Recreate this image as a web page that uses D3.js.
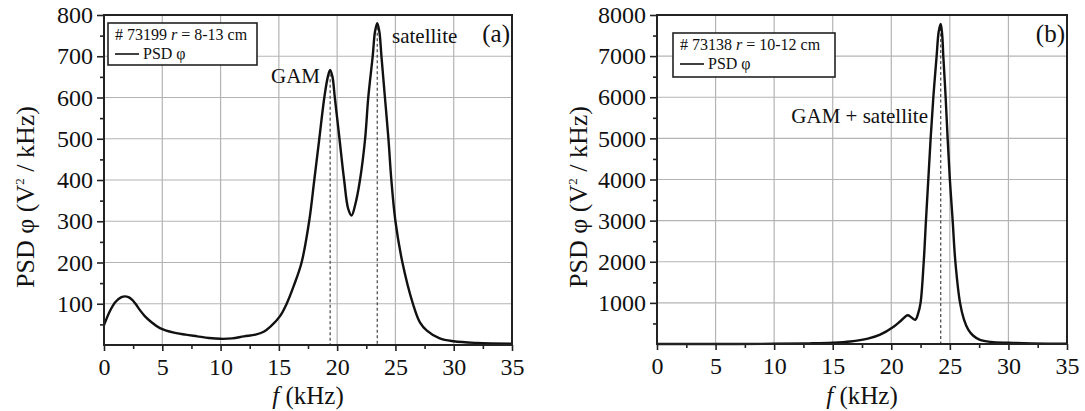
<!DOCTYPE html>
<html>
<head>
<meta charset="utf-8">
<script src="https://cdn.jsdelivr.net/npm/d3@7"></script>
<style>
  body { margin: 0; background: #fff; }
  svg { display: block; }
  svg text { font-family: "Liberation Serif", "DejaVu Serif", serif; }
</style>
</head>
<body>
<svg id="chart" width="1085" height="411"></svg>
<script>
// panel (a): # 73199, r = 8-13 cm
const freqA = [0, 0.5, 1, 1.5, 1.8, 2.1, 2.4, 2.7, 3.1, 3.5, 4, 4.8, 6, 7, 8, 9, 10, 11, 12, 13, 13.7, 14.3, 15.1, 15.67, 16.3, 16.95, 17.6, 18.04, 18.47, 18.9, 19.2, 19.4, 19.6, 19.8, 20.2, 20.6, 20.95, 21.24, 21.55, 21.96, 22.4, 22.67, 23.05, 23.25, 23.44, 23.62, 23.8, 24.1, 24.4, 24.65, 25, 25.6, 26.5, 27.1, 27.7, 28.8, 30, 32, 35];
const psdA = [48, 82, 105, 116, 118, 116, 110, 100, 84, 70, 57, 41, 30, 25, 21, 17, 15, 16, 21, 25, 32, 45, 70, 100, 145, 200, 300, 400, 500, 600, 650, 667, 650, 600, 500, 400, 330, 314, 340, 400, 500, 600, 700, 760, 780, 760, 700, 600, 500, 400, 300, 200, 100, 55, 35, 16, 9, 5, 3];

// panel (b): # 73138, r = 10-12 cm
const freqB = [0, 5, 10, 13, 15, 16.5, 18, 19, 20.2, 20.8, 21.4, 21.7, 22.05, 22.3, 22.5, 22.77, 22.96, 23.16, 23.36, 23.59, 23.87, 24.05, 24.22, 24.35, 24.44, 24.64, 24.81, 25, 25.24, 25.47, 25.87, 26.2, 26.57, 27, 27.57, 28.5, 30, 32, 35];
const psdB = [0, 0, 5, 15, 30, 60, 130, 220, 420, 560, 700, 650, 590, 750, 1000, 2000, 3000, 4000, 5000, 6000, 7000, 7600, 7780, 7500, 7000, 6000, 5000, 4000, 3000, 2000, 1000, 600, 350, 200, 100, 50, 30, 15, 5];

const xTicks = [0, 5, 10, 15, 20, 25, 30, 35];
const yTicksA = [100, 200, 300, 400, 500, 600, 700, 800];
const yTicksB = [1000, 2000, 3000, 4000, 5000, 6000, 7000, 8000];

const peaksA = [19.4, 23.44];
const peaksB = [24.22];

const serif = '"Liberation Serif", "DejaVu Serif", serif';
const svg = d3.select('#chart');

function drawPanel(cfg) {
  const { left, right, top, bottom, freq, psd, yMax, yTicks, peaks, legendText, legendBox, tag, yLabelX } = cfg;

  const x = d3.scaleLinear().domain([0, 35]).range([left, right]);
  const y = d3.scaleLinear().domain([0, yMax]).range([bottom, top]);
  const g = svg.append('g');

  // grid
  g.append('g').selectAll('line').data(xTicks.slice(1, -1)).enter()
    .append('line')
    .attr('x1', d => x(d)).attr('x2', d => x(d))
    .attr('y1', top).attr('y2', bottom)
    .attr('stroke', '#b4b4b4').attr('stroke-width', 1.2);
  g.append('g').selectAll('line').data(yTicks.slice(0, -1)).enter()
    .append('line')
    .attr('x1', left).attr('x2', right)
    .attr('y1', d => y(d)).attr('y2', d => y(d))
    .attr('stroke', '#b4b4b4').attr('stroke-width', 1.2);

  const line = d3.line().x(d => x(d[0])).y(d => y(d[1])).curve(d3.curveCatmullRom.alpha(0.5));
  const pts = d3.zip(freq, psd);
  const interp = f => {
    const i = d3.bisectLeft(freq, f);
    if (freq[i] === f) return psd[i];
    const t = (f - freq[i - 1]) / (freq[i] - freq[i - 1]);
    return psd[i - 1] + t * (psd[i] - psd[i - 1]);
  };

  // dashed peak markers
  g.selectAll('line.peak').data(peaks).enter()
    .append('line')
    .attr('x1', d => x(d)).attr('x2', d => x(d))
    .attr('y1', d => y(interp(d)) + 4).attr('y2', bottom)
    .attr('stroke', '#444').attr('stroke-width', 1.2)
    .attr('stroke-dasharray', '3,2.5');

  // curve
  g.append('path')
    .datum(pts)
    .attr('d', line)
    .attr('fill', 'none')
    .attr('stroke', '#111')
    .attr('stroke-width', 2.4)
    .attr('stroke-linejoin', 'round');

  // axes
  const xAxis = d3.axisBottom(x).tickValues(xTicks).tickSize(6).tickPadding(7).tickFormat(d3.format('d'));
  const xMinor = d3.axisBottom(x).tickValues(d3.range(2.5, 35, 5)).tickSize(4).tickFormat('');
  const yAxis = d3.axisLeft(y).tickValues(yTicks).tickSize(7).tickPadding(4).tickFormat(d3.format('d'));
  const yMinor = d3.axisLeft(y).tickValues(yTicks.map(v => v - yTicks[0] / 2)).tickSize(4).tickFormat('');

  [xAxis, xMinor].forEach(a => {
    g.append('g').attr('transform', `translate(0,${bottom})`).call(a)
      .call(s => s.select('.domain').remove());
  });
  [yAxis, yMinor].forEach(a => {
    g.append('g').attr('transform', `translate(${left},0)`).call(a)
      .call(s => s.select('.domain').remove());
  });
  g.selectAll('.tick line').attr('stroke', '#222').attr('stroke-width', 1.6);
  g.selectAll('.tick text')
    .attr('fill', '#111')
    .attr('font-family', serif)
    .attr('font-size', 24);

  // frame
  g.append('rect')
    .attr('x', left).attr('y', top)
    .attr('width', right - left).attr('height', bottom - top)
    .attr('fill', 'none').attr('stroke', '#222').attr('stroke-width', 2);

  // y label
  const yl = g.append('text')
    .attr('transform', `translate(${yLabelX},197) rotate(-90)`)
    .attr('text-anchor', 'middle')
    .attr('font-size', 26)
    .attr('fill', '#111');
  yl.append('tspan').text('PSD φ (V');
  yl.append('tspan').attr('dy', -10).attr('font-size', 13).text('2');
  yl.append('tspan').attr('dy', 10).text(' / kHz)');

  // x label
  const xl = g.append('text')
    .attr('x', (left + right) / 2).attr('y', 404)
    .attr('text-anchor', 'middle')
    .attr('font-size', 25)
    .attr('fill', '#111');
  xl.append('tspan').attr('font-style', 'italic').text('f');
  xl.append('tspan').text(' (kHz)');

  // legend
  const lg = g.append('g');
  lg.append('rect')
    .attr('x', legendBox[0]).attr('y', legendBox[1])
    .attr('width', legendBox[2]).attr('height', legendBox[3])
    .attr('fill', '#fff').attr('stroke', '#222').attr('stroke-width', 1.6);
  const t1 = lg.append('text')
    .attr('x', legendBox[0] + 7).attr('y', legendBox[1] + 17)
    .attr('font-size', 16).attr('fill', '#111');
  t1.append('tspan').text(`# ${legendText[0]} `);
  t1.append('tspan').attr('font-style', 'italic').text('r');
  t1.append('tspan').text(` = ${legendText[1]} cm`);
  lg.append('line')
    .attr('x1', legendBox[0] + 7).attr('x2', legendBox[0] + 31)
    .attr('y1', legendBox[1] + 31).attr('y2', legendBox[1] + 31)
    .attr('stroke', '#111').attr('stroke-width', 1.6);
  lg.append('text')
    .attr('x', legendBox[0] + 35).attr('y', legendBox[1] + 36)
    .attr('font-size', 16).attr('fill', '#111')
    .text('PSD φ');

  // panel tag
  g.append('text')
    .attr('x', right - 2).attr('y', top + 27)
    .attr('text-anchor', 'end')
    .attr('font-size', 25).attr('fill', '#111')
    .text(tag);

  return { x, y, g };
}

const pa = drawPanel({
  left: 104, right: 512, top: 15, bottom: 345,
  freq: freqA, psd: psdA, yMax: 800, yTicks: yTicksA, peaks: peaksA,
  legendText: ['73199', '8-13'], legendBox: [108, 23, 149, 42],
  tag: '(a)', yLabelX: 34
});
pa.g.append('text').attr('x', 320).attr('y', 83).attr('text-anchor', 'end')
  .attr('font-size', 21).attr('fill', '#111').text('GAM');
pa.g.append('text').attr('x', 392).attr('y', 43)
  .attr('font-size', 21).attr('fill', '#111').text('satellite');

const pb = drawPanel({
  left: 657, right: 1067, top: 15, bottom: 344,
  freq: freqB, psd: psdB, yMax: 8000, yTicks: yTicksB, peaks: peaksB,
  legendText: ['73138', '10-12'], legendBox: [673, 33, 162, 44],
  tag: '(b)', yLabelX: 587
});
pb.g.append('text').attr('x', 928).attr('y', 123).attr('text-anchor', 'end')
  .attr('font-size', 21).attr('fill', '#111').text('GAM + satellite');
</script>
</body>
</html>
